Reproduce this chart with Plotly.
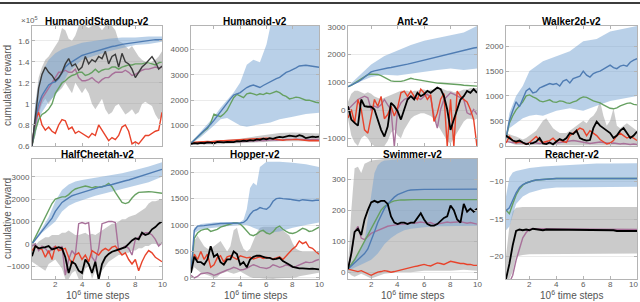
import plotly.graph_objects as go

# ---------------- shared x grid (10^6 time steps) ----------------
X = [0.25, 0.5, 0.75, 1, 1.25, 1.5, 1.75, 2, 2.25, 2.5, 2.75, 3, 3.25, 3.5, 3.75, 4,
     4.25, 4.5, 4.75, 5, 5.25, 5.5, 5.75, 6, 6.25, 6.5, 6.75, 7, 7.25, 7.5, 7.75, 8,
     8.25, 8.5, 8.75, 9, 9.25, 9.5, 9.75, 10]
X_TICKS = [2, 4, 6, 8, 10]

# ---------------- HumanoidStandup-v2 (x1e5) ----------------
HS_BLUE = [0.6,0.85,1.0,1.08,1.13,1.18,1.2,1.21,1.24,1.3,1.35,1.38,1.4,1.42,1.44,1.46,1.47,1.48,1.49,1.5,
           1.51,1.52,1.53,1.54,1.545,1.55,1.56,1.565,1.57,1.575,1.58,1.585,1.59,1.595,1.6,1.6,1.605,1.61,1.61,1.61]
HS_BAND_X = [0.25,0.5,0.75,1,1.5,2,2.5,3,3.5,4,5,6,7,8,9,10]
HS_BLUE_HI = [0.62,1.0,1.2,1.3,1.42,1.48,1.52,1.54,1.56,1.58,1.6,1.62,1.63,1.63,1.64,1.64]
HS_BLUE_LO = [0.6,0.7,0.85,0.92,1.02,1.08,1.18,1.3,1.36,1.42,1.46,1.5,1.53,1.56,1.57,1.59]
HS_GRAY_HI = [0.62,1.0,1.25,1.35,1.42,1.45,1.5,1.55,1.6,1.72,1.7,1.62,1.6,1.65,1.74,1.74,1.74,1.72,1.74,1.74,
              1.74,1.7,1.74,1.74,1.74,1.7,1.6,1.58,1.55,1.52,1.55,1.5,1.45,1.42,1.4,1.38,1.4,1.42,1.45,1.5]
HS_GRAY_LO = [0.6,0.7,0.9,1.0,1.05,1.0,1.05,1.1,1.12,1.15,1.2,1.15,1.1,1.2,1.15,1.1,1.15,1.1,1.0,0.95,
              1.0,1.05,0.95,0.9,0.92,0.98,1.0,0.95,0.9,0.92,0.95,0.9,0.92,1.0,1.02,1.0,0.98,0.9,0.85,0.88]
HS_BLACK = [0.6,0.9,1.15,1.28,1.35,1.3,1.27,1.22,1.25,1.3,1.38,1.43,1.36,1.38,1.32,1.35,1.45,1.38,1.42,1.4,
            1.45,1.43,1.5,1.38,1.45,1.47,1.35,1.48,1.4,1.38,1.33,1.25,1.3,1.35,1.38,1.42,1.45,1.4,1.33,1.36]
HS_GREEN = [0.6,0.75,0.85,0.9,0.92,0.95,1.0,1.1,1.15,1.2,1.22,1.25,1.27,1.28,1.3,1.3,1.27,1.28,1.3,1.33,
            1.3,1.32,1.33,1.33,1.35,1.35,1.33,1.35,1.36,1.37,1.37,1.38,1.38,1.38,1.39,1.39,1.38,1.37,1.39,1.4]
HS_PURPLE = [0.6,0.8,0.95,1.05,1.1,1.15,1.2,1.25,1.3,1.3,1.32,1.3,1.3,1.33,1.25,1.22,1.22,1.23,1.25,1.22,
             1.2,1.23,1.25,1.25,1.28,1.3,1.3,1.3,1.32,1.3,1.27,1.28,1.3,1.32,1.33,1.33,1.34,1.35,1.34,1.35]
HS_RED = [0.6,0.85,0.92,0.8,0.75,0.78,0.74,0.72,0.8,0.85,0.84,0.76,0.78,0.72,0.74,0.72,0.7,0.68,0.72,0.7,
          0.8,0.75,0.7,0.65,0.68,0.66,0.7,0.78,0.8,0.74,0.62,0.64,0.62,0.66,0.7,0.7,0.72,0.74,0.75,0.92]

# ---------------- Humanoid-v2 ----------------
HU_BLUE = [300,420,530,650,780,900,1050,1200,1380,1550,1720,1900,2050,2200,2250,2300,2400,2500,2560,2600,
           2550,2500,2580,2650,2720,2800,2850,2900,3000,3100,3150,3200,3280,3350,3370,3380,3360,3350,3320,3300]
HU_BAND_X = [0.25,1,2,2.5,3,3.5,4,4.5,5,5.5,6,6.3,7,8,9,10]
HU_BLUE_HI = [330,750,1350,1700,2000,2300,2700,3400,3600,3500,4200,4930,4930,4930,4930,4930]
HU_BLUE_LO = [280,550,1000,1250,1300,1150,1000,950,1000,1050,1100,1120,1250,1350,1450,1500]
HU_GREEN = [300,420,560,700,780,880,1100,1450,1400,1350,1450,1600,1850,2100,2230,2150,2100,2250,2280,2250,
            2200,2250,2220,2280,2250,2300,2350,2300,2200,2150,2050,2080,2120,2100,2050,2000,2000,1950,1920,1900]
HU_BLACK = [270,300,290,310,300,330,320,300,350,340,330,350,360,340,380,370,400,380,420,400,
            450,430,480,450,500,470,520,550,530,560,600,580,560,620,580,500,520,560,540,560]
HU_GRAY_X = [0.25,1,2,3,4,5,6,7,8,9,10]
HU_GRAY_HI = [320,380,400,430,480,560,620,700,720,700,680]
HU_GRAY_LO = [230,250,250,270,290,320,350,380,400,380,380]
HU_RED = [330,340,350,350,360,370,360,380,390,400,400,410,420,420,430,440,450,450,460,470,
          480,480,490,500,490,470,450,440,420,430,450,440,450,430,420,410,400,410,400,400]
HU_PURPLE = [290,300,310,320,330,320,340,330,350,340,350,360,350,370,360,380,370,390,380,400,
             390,410,400,420,410,430,420,440,430,450,440,450,460,450,440,430,440,450,440,450]

# ---------------- Ant-v2 ----------------
AN_BLUE = [850,900,960,1020,1100,1200,1300,1380,1420,1450,1480,1500,1520,1540,1560,1590,1610,1630,1660,1690,
           1720,1750,1780,1810,1840,1870,1900,1930,1960,1990,2010,2040,2070,2100,2130,2150,2180,2210,2240,2260]
AN_BAND_X = [0.25,1,2,3,4,5,6,7,8,9,10]
AN_BLUE_HI = [870,1200,1650,1950,2150,2350,2500,2600,2700,2800,3030]
AN_BLUE_LO = [830,1000,1200,1280,1250,1300,1380,1450,1500,1450,1500]
AN_GREEN = [850,900,980,1060,1150,1230,1280,1300,1300,1290,1250,1180,1110,1060,1040,1030,1040,1070,1100,1150,
            1120,1100,1080,1050,1030,1000,990,980,975,970,960,950,940,930,920,900,890,880,870,870]
AN_GRAY_HI = [300,600,700,700,650,600,650,600,500,450,400,450,500,550,600,650,700,700,700,650,
              700,700,750,750,700,750,750,800,800,750,700,700,650,650,700,750,750,800,800,800]
AN_GRAY_LO = [-300,-900,-1150,-1280,-1000,-900,-1000,-1200,-1280,-1280,-1280,-1280,-1100,-800,-700,-900,-1000,-700,-500,-300,
              -200,-150,-100,-100,-150,-200,-300,-500,-700,-900,-1100,-1200,-1000,-800,-600,-400,-300,-300,-350,-300]
AN_BLACK = [150,-330,-450,-550,390,150,130,130,30,-330,-700,-940,-580,270,150,-30,-330,30,390,510,
            390,630,510,580,700,630,730,820,760,510,30,-700,-330,30,390,510,700,630,760,630]
AN_RED = [-270,30,-450,390,30,-700,-820,-200,390,150,500,-300,-150,150,-200,100,630,690,500,690,
          500,390,760,630,390,560,-400,-100,400,600,-1300,400,-1300,690,510,390,300,30,-330,-1300]
AN_PURPLE = [30,150,270,390,450,510,450,30,150,100,200,390,200,30,-1300,30,270,390,450,510,
             450,450,390,510,580,450,-200,-640,30,390,510,630,580,510,450,390,-90,-150,30,-150]

# ---------------- Walker2d-v2 ----------------
WA_BLUE = [150,500,700,880,780,950,1100,1150,1060,1080,1160,1190,1220,1250,1230,1250,1200,1300,1330,1260,
           1350,1370,1400,1500,1420,1380,1450,1480,1500,1540,1580,1620,1570,1550,1600,1620,1600,1680,1720,1750]
WA_BAND_X = [0.25,0.5,1,1.5,2,2.5,3,4,5,6,7,8,9,10]
WA_BLUE_HI = [200,650,1000,1200,1500,1600,1700,1800,1900,2100,2150,2300,2350,2410]
WA_BLUE_LO = [120,350,450,550,600,620,600,700,750,700,800,900,950,1000]
WA_GREEN = [150,450,600,720,800,880,1000,1020,980,950,900,880,900,920,880,870,900,890,860,850,
            880,900,950,980,970,930,900,880,860,820,780,750,740,760,800,830,850,860,830,820]
WA_GRAY_HI = [250,220,200,180,150,120,150,200,250,300,400,500,550,450,350,300,250,250,250,300,
              350,400,450,500,450,550,600,700,900,600,400,500,750,400,350,400,450,400,350,300]
WA_GRAY_LO = [120,60,30,10,0,0,0,0,0,0,0,0,0,0,0,0,0,0,0,0,
              0,0,0,0,0,0,0,0,0,0,0,0,0,0,0,0,0,0,0,0]
WA_BLACK = [200,150,100,80,100,60,30,40,50,80,150,40,30,60,20,80,130,100,150,250,
            230,300,150,120,100,110,350,480,400,350,300,250,150,200,300,350,250,150,200,280]
WA_RED = [50,180,100,50,80,60,20,60,120,180,100,60,80,100,150,80,120,80,60,200,
          250,300,350,320,200,300,250,200,120,80,30,50,100,200,250,200,150,180,150,100]
WA_PURPLE = [80,70,60,50,60,50,40,50,60,50,40,50,60,50,40,50,60,70,80,90,
             100,90,80,60,50,40,50,60,70,60,50,40,50,40,30,40,30,20,30,20]

# ---------------- HalfCheetah-v2 ----------------
HC_BLUE = [0,200,400,600,750,950,1150,1450,1650,1850,1950,2050,2150,2200,2250,2300,2350,2400,2450,2500,
           2520,2550,2600,2620,2650,2700,2750,2780,2820,2850,2900,2950,3000,3050,3100,3150,3200,3250,3300,3330]
HC_BAND_X = [0.25,1,1.5,2,2.5,3,3.5,4,5,6,7,8,9,10]
HC_BLUE_HI = [50,700,1200,1900,2400,2650,2780,2850,2950,3050,3150,3300,3450,3650]
HC_BLUE_LO = [-50,500,750,1000,1450,1700,1850,1950,2150,2300,2450,2600,2750,3000]
HC_GREEN = [0,300,600,900,1200,1500,1800,2000,2050,2100,2100,2200,2350,2450,2500,2550,2580,2550,2500,2550,
            2530,2550,2600,2700,2550,2300,2100,1850,1800,1850,2050,2200,2300,2320,2330,2330,2320,2300,2280,2260]
HC_GRAY_HI = [0,-100,100,200,300,300,400,400,400,500,500,600,500,400,400,450,500,400,450,400,
              500,600,700,800,900,900,1000,1100,1100,1200,1250,1300,1400,1500,1600,1800,1900,1900,1950,2000]
HC_GRAY_LO = [-800,-900,-1000,-1100,-1200,-900,-800,-700,-900,-1100,-1570,-1570,-1300,-1200,-1570,-1570,-1100,-1000,-1570,-1200,
              -1570,-1200,-1000,-800,-700,-600,-500,-500,-400,-400,-300,-300,-200,-200,-100,-100,0,0,-100,0]
HC_BLACK = [-550,-100,-200,-180,-150,-100,-250,-200,-150,-200,-600,-1300,-800,-900,-1200,-1300,-700,-900,-1300,-800,
            -1600,-900,-600,-450,-350,-300,-250,-200,-150,0,150,250,200,500,400,450,650,750,900,1000]
HC_PURPLE = [-100,0,-300,-100,-200,-400,-200,-100,-300,-100,-1400,-700,-300,-500,900,950,900,950,-600,-800,
             -200,900,950,1000,1000,950,-300,-200,-100,-200,-500,200,300,400,500,500,400,200,-100,50]
HC_RED = [-300,-100,-200,-250,-600,-300,-700,-100,-300,-250,-200,-600,-900,-500,-400,-700,-500,-800,-300,-400,
          -500,-300,-200,-300,-150,-100,-300,-500,-400,-700,-900,-700,-1200,-800,-500,-300,-400,-600,-700,-800]

# ---------------- Hopper-v2 ----------------
HO_BLUE = [100,900,980,980,990,1000,1010,1020,1020,1030,1030,1030,1040,1040,1040,1040,1050,1100,1200,1270,
           1290,1330,1310,1300,1350,1450,1500,1510,1500,1500,1490,1480,1470,1460,1480,1470,1470,1460,1470,1470]
HO_BAND_X = [0.25,0.5,1,2,3,4,4.25,4.5,4.75,5,5.25,5.5,6,7,8,9,10]
HO_BLUE_HI = [120,950,1020,1050,1060,1060,1100,1300,1700,1800,1750,2100,2200,2200,2180,2150,2100]
HO_BLUE_LO = [80,850,920,950,980,1000,1000,1000,980,950,920,900,850,880,950,1000,1050]
HO_GREEN = [100,750,850,900,920,930,880,900,920,960,980,990,1020,1040,1040,1020,960,880,820,800,
            830,880,900,850,830,870,950,980,920,880,850,840,860,900,940,920,880,890,930,960]
HO_GRAY_HI = [120,700,800,700,600,550,550,600,650,700,600,500,600,900,950,700,550,500,550,700,
              850,950,970,970,970,970,970,950,900,850,800,650,550,520,500,500,500,500,500,500]
HO_GRAY_LO = [80,200,150,100,80,50,30,0,20,80,100,120,100,80,100,120,80,50,20,0,
              0,0,-10,-20,-20,-20,-10,0,0,0,0,0,10,30,50,50,60,80,90,100]
HO_BLACK = [100,400,300,300,250,350,600,400,450,300,250,350,350,500,450,250,300,200,350,400,
            420,420,400,380,380,350,360,380,320,290,250,210,190,180,180,170,170,175,170,160]
HO_RED = [150,450,350,500,350,450,200,250,380,420,300,400,420,380,350,420,400,380,390,360,
          380,400,370,390,380,360,380,400,350,420,500,550,600,700,650,680,580,560,500,450]
HO_PURPLE = [50,0,30,80,90,100,80,50,70,100,120,150,170,200,180,150,160,180,220,250,
             230,200,190,180,200,250,230,200,220,250,230,200,220,250,280,300,290,300,330,350]

# ---------------- Swimmer-v2 ----------------
SW_BLUE = [10,20,30,40,50,60,75,100,130,160,185,205,220,232,242,250,255,260,263,265,
           266,266,267,267,267,267,268,268,268,268,268,268,268,268,268,268,268,268,268,268]
SW_BAND_X = [0.25,0.5,1,1.5,2,2.25,2.5,2.75,3,3.5,4,4.5,5,6,7,8,9,10]
SW_BLUE_HI = [15,30,60,100,250,320,345,355,360,362,363,365,365,365,365,365,365,365]
SW_BLUE_LO = [5,10,20,30,40,50,60,75,90,110,125,135,140,145,148,150,150,150]
SW_GREEN = [10,25,40,60,80,100,120,140,165,185,200,212,220,226,230,232,233,233,234,234,
            234,234,234,234,234,234,234,234,234,234,234,234,234,234,234,234,234,234,234,234]
SW_GRAY_X = [0.25,0.5,0.75,1,1.25,1.5,2,3,4,5,6,7,8,9,10]
SW_GRAY_HI = [15,200,335,340,320,350,360,365,365,365,365,365,365,365,365]
SW_GRAY_LO = [0,-10,-15,-10,-5,-10,-20,-5,0,0,5,5,5,8,5]
SW_BLACK = [10,60,130,140,120,170,200,225,230,225,230,230,220,180,160,155,160,160,155,160,
            160,175,190,170,155,150,150,155,165,175,180,215,200,170,160,220,195,205,195,205]
SW_PURPLE = [10,60,130,148,110,105,115,125,130,135,140,145,148,150,152,155,155,155,158,160,
             158,160,162,160,158,160,155,155,158,160,162,160,160,162,163,160,158,160,158,155]
SW_RED = [10,8,5,2,5,0,-5,-10,-5,0,2,5,3,0,2,5,8,10,12,15,
          18,20,22,25,22,20,25,30,28,25,30,35,33,30,28,28,25,25,22,22]

# ---------------- Reacher-v2 ----------------
RE_BLUE = [-13.9,-13.5,-12.5,-11.5,-10.8,-10.4,-10.2,-10.0,-9.9,-9.8,-9.75,-9.7,-9.65,-9.62,-9.6,-9.6,-9.58,-9.6,-9.58,-9.6,
           -9.6,-9.58,-9.6,-9.6,-9.58,-9.6,-9.6,-9.6,-9.58,-9.6,-9.6,-9.6,-9.62,-9.6,-9.6,-9.6,-9.6,-9.62,-9.6,-9.6]
RE_BAND_X = [0.25,0.5,0.75,1,1.5,2,3,4,5,6,7,8,9,10]
RE_BLUE_HI = [-12,-9.5,-8.8,-8.6,-8.4,-8.2,-8.0,-7.9,-7.8,-7.7,-7.6,-7.6,-7.55,-7.55]
RE_BLUE_LO = [-16.5,-16.0,-14.5,-13.0,-12.0,-11.5,-11.0,-10.8,-10.8,-10.7,-10.7,-10.7,-10.7,-10.7]
RE_GREEN = [-13.8,-14.3,-13.0,-11.8,-11.0,-10.5,-10.2,-10.0,-9.9,-9.8,-9.75,-9.7,-9.68,-9.65,-9.62,-9.6,-9.6,-9.6,-9.6,-9.6,
            -9.6,-9.6,-9.6,-9.6,-9.6,-9.6,-9.6,-9.6,-9.6,-9.6,-9.6,-9.6,-9.6,-9.6,-9.6,-9.6,-9.6,-9.6,-9.6,-9.6]
RE_GRAY_X = [0.25,0.5,0.75,1,1.5,2,3,4,5,6,7,8,9,10]
RE_GRAY_HI = [-20,-16,-14,-13.5,-13.4,-13.4,-13.3,-13.4,-13.3,-13.4,-13.3,-13.4,-13.3,-13.4]
RE_GRAY_LO = [-23,-23,-22,-20,-19.8,-19.7,-19.6,-19.7,-19.6,-19.7,-19.6,-19.7,-19.6,-19.6]
RE_BLACK = [-23,-21,-18.5,-16.6,-16.4,-16.5,-16.4,-16.5,-16.3,-16.4,-16.4,-16.5,-16.4,-16.4,-16.5,-16.4,-16.4,-16.5,-16.4,-16.4,
            -16.5,-16.5,-16.4,-16.5,-16.5,-16.5,-16.5,-16.5,-16.5,-16.5,-16.5,-16.5,-16.5,-16.6,-16.6,-16.6,-16.6,-16.6,-16.6,-16.6]
RE_PURPLE = [-24,-23.5,-22.5,-20.5,-19,-17.5,-16.8,-16.4,-16.3,-16.3,-16.3,-16.3,-16.3,-16.3,-16.3,-16.3,-16.3,-16.3,-16.3,-16.3,
             -16.3,-16.3,-16.3,-16.3,-16.3,-16.3,-16.3,-16.3,-16.3,-16.3,-16.3,-16.3,-16.3,-16.3,-16.3,-16.3,-16.3,-16.3,-16.35,-16.4]

# ---------------- styling ----------------
C_BLUE = "#4f7cb3"
C_BLUE_BAND = "rgba(115,161,209,0.5)"
C_GRAY_BAND = "rgba(140,140,140,0.45)"
C_GREEN = "#66a061"
C_PURPLE = "#a8719a"
C_RED = "#e8432b"
C_BLACK = "#000000"
FONT = "Liberation Sans, Arial, sans-serif"
TICK_COLOR = "#5c5c5c"
W, H = 640, 302

COL_PX = [(32, 162), (191, 319), (348, 477), (506, 637)]
ROW_PX = [(26, 146), (159, 279)]

PANELS = [
    dict(title="HumanoidStandup-v2", yr=[0.6, 1.74], yt=[0.6, 0.8, 1, 1.2, 1.4, 1.6],
         ytl=["0.6", "0.8", "1", "1.2", "1.4", "1.6"],
         bands=[(X, HS_GRAY_LO, HS_GRAY_HI, C_GRAY_BAND), (HS_BAND_X, HS_BLUE_LO, HS_BLUE_HI, C_BLUE_BAND)],
         lines=[(X, HS_PURPLE, C_PURPLE, 1.4), (X, HS_RED, C_RED, 1.4), (X, HS_GREEN, C_GREEN, 1.4),
                (X, HS_BLUE, C_BLUE, 1.4), (X, HS_BLACK, "#3a3a3a", 1.4)]),
    dict(title="Humanoid-v2", yr=[190, 4930], yt=[1000, 2000, 3000, 4000], ytl=None,
         bands=[(HU_GRAY_X, HU_GRAY_LO, HU_GRAY_HI, C_GRAY_BAND), (HU_BAND_X, HU_BLUE_LO, HU_BLUE_HI, C_BLUE_BAND)],
         lines=[(X, HU_PURPLE, C_PURPLE, 1.4), (X, HU_RED, C_RED, 1.4), (X, HU_GREEN, C_GREEN, 1.4),
                (X, HU_BLUE, C_BLUE, 1.4), (X, HU_BLACK, C_BLACK, 1.8)]),
    dict(title="Ant-v2", yr=[-1280, 3030], yt=[-1000, 0, 1000, 2000, 3000], ytl=None,
         bands=[(X, AN_GRAY_LO, AN_GRAY_HI, C_GRAY_BAND), (AN_BAND_X, AN_BLUE_LO, AN_BLUE_HI, C_BLUE_BAND)],
         lines=[(X, AN_PURPLE, C_PURPLE, 1.4), (X, AN_RED, C_RED, 1.4), (X, AN_GREEN, C_GREEN, 1.4),
                (X, AN_BLUE, C_BLUE, 1.4), (X, AN_BLACK, C_BLACK, 1.8)]),
    dict(title="Walker2d-v2", yr=[-10, 2410], yt=[0, 500, 1000, 1500, 2000], ytl=None,
         bands=[(X, WA_GRAY_LO, WA_GRAY_HI, C_GRAY_BAND), (WA_BAND_X, WA_BLUE_LO, WA_BLUE_HI, C_BLUE_BAND)],
         lines=[(X, WA_PURPLE, C_PURPLE, 1.4), (X, WA_RED, C_RED, 1.4), (X, WA_GREEN, C_GREEN, 1.4),
                (X, WA_BLUE, C_BLUE, 1.4), (X, WA_BLACK, C_BLACK, 1.8)]),
    dict(title="HalfCheetah-v2", yr=[-1570, 3790], yt=[-1000, 0, 1000, 2000, 3000], ytl=None,
         bands=[(X, HC_GRAY_LO, HC_GRAY_HI, C_GRAY_BAND), (HC_BAND_X, HC_BLUE_LO, HC_BLUE_HI, C_BLUE_BAND)],
         lines=[(X, HC_PURPLE, C_PURPLE, 1.4), (X, HC_RED, C_RED, 1.4), (X, HC_GREEN, C_GREEN, 1.4),
                (X, HC_BLUE, C_BLUE, 1.4), (X, HC_BLACK, C_BLACK, 1.8)]),
    dict(title="Hopper-v2", yr=[-20, 2250], yt=[0, 500, 1000, 1500, 2000], ytl=None,
         bands=[(X, HO_GRAY_LO, HO_GRAY_HI, C_GRAY_BAND), (HO_BAND_X, HO_BLUE_LO, HO_BLUE_HI, C_BLUE_BAND)],
         lines=[(X, HO_PURPLE, C_PURPLE, 1.4), (X, HO_RED, C_RED, 1.4), (X, HO_GREEN, C_GREEN, 1.4),
                (X, HO_BLUE, C_BLUE, 1.4), (X, HO_BLACK, C_BLACK, 1.8)]),
    dict(title="Swimmer-v2", yr=[-22, 365], yt=[0, 100, 200, 300], ytl=None,
         bands=[(SW_GRAY_X, SW_GRAY_LO, SW_GRAY_HI, C_GRAY_BAND), (SW_BAND_X, SW_BLUE_LO, SW_BLUE_HI, C_BLUE_BAND)],
         lines=[(X, SW_PURPLE, C_PURPLE, 1.4), (X, SW_RED, C_RED, 1.4), (X, SW_GREEN, C_GREEN, 1.4),
                (X, SW_BLUE, C_BLUE, 1.4), (X, SW_BLACK, C_BLACK, 1.8)]),
    dict(title="Reacher-v2", yr=[-23, -7], yt=[-20, -15, -10], ytl=None,
         bands=[(RE_GRAY_X, RE_GRAY_LO, RE_GRAY_HI, C_GRAY_BAND), (RE_BAND_X, RE_BLUE_LO, RE_BLUE_HI, C_BLUE_BAND)],
         lines=[(X, RE_PURPLE, C_PURPLE, 1.4), (X, RE_GREEN, C_GREEN, 1.4),
                (X, RE_BLUE, C_BLUE, 1.4), (X, RE_BLACK, C_BLACK, 1.8)]),
]

fig = go.Figure()
annotations = []
layout = {}

for k, p in enumerate(PANELS):
    r, c = divmod(k, 4)
    n = "" if k == 0 else str(k + 1)
    xa, ya = "x" + n, "y" + n
    for bx, lo, hi, col in p["bands"]:
        fig.add_trace(go.Scatter(x=list(bx) + list(bx)[::-1], y=list(hi) + list(lo)[::-1],
                                 xaxis=xa, yaxis=ya, mode="lines", fill="toself",
                                 fillcolor=col, line=dict(width=0), hoverinfo="skip",
                                 showlegend=False))
    for lx, ly, col, w in p["lines"]:
        fig.add_trace(go.Scatter(x=lx, y=ly, xaxis=xa, yaxis=ya, mode="lines",
                                 line=dict(color=col, width=w), showlegend=False))
    x0, x1 = COL_PX[c]
    y0, y1 = ROW_PX[r]
    axis_common = dict(showline=True, linecolor="#b4b4b4", linewidth=1, mirror="ticks",
                       ticks="inside", ticklen=3, tickcolor="#b4b4b4", zeroline=False,
                       automargin=False,
                       tickfont=dict(family=FONT, size=8, color=TICK_COLOR))
    layout["xaxis" + n] = dict(axis_common, domain=[x0 / W, x1 / W], range=[0.25, 10],
                               anchor=ya, tickvals=X_TICKS, showgrid=False,
                               showticklabels=False)
    yax = dict(axis_common, domain=[1 - y1 / H, 1 - y0 / H], range=p["yr"], anchor=xa,
               tickvals=p["yt"], showgrid=True, gridcolor="#ebebeb", gridwidth=1)
    if p["ytl"]:
        yax["ticktext"] = p["ytl"]
    layout["yaxis" + n] = yax
    annotations.append(dict(text="<b>" + p["title"] + "</b>", x=(x0 + x1) / 2 / W,
                            y=1 - (y0 - 5) / H, xref="paper", yref="paper", showarrow=False,
                            font=dict(family=FONT, size=10, color="#000000"),
                            xanchor="center", yanchor="middle"))
    if r == 1:
        # x tick labels placed on the data axis, right under the frame
        for t in X_TICKS:
            last = (c == 3 and t == X_TICKS[-1])
            annotations.append(dict(text=str(t), x=t, xref=xa, y=1 - 284 / H, yref="paper",
                                    showarrow=False, xanchor="right" if last else "center",
                                    xshift=3 if last else 0, yanchor="middle",
                                    font=dict(family=FONT, size=8, color=TICK_COLOR)))
        annotations.append(dict(text="10<sup>6</sup> time steps", x=(x0 + x1) / 2 / W,
                                y=1 - 302 / H, xref="paper", yref="paper", showarrow=False,
                                font=dict(family=FONT, size=10, color="#555555"),
                                xanchor="center", yanchor="bottom", borderpad=0))
    if c == 0:
        annotations.append(dict(text="cumulative reward", x=7 / W, y=1 - ((y0 + y1) / 2) / H,
                                xref="paper", yref="paper", showarrow=False, textangle=-90,
                                font=dict(family=FONT, size=10, color="#555555"),
                                xanchor="center", yanchor="middle"))

annotations.append(dict(text="×10<sup>5</sup>", x=29 / W, y=1 - 20 / H, xref="paper", yref="paper",
                        showarrow=False, font=dict(family=FONT, size=8, color=TICK_COLOR),
                        xanchor="center", yanchor="middle"))

fig.update_layout(
    width=W, height=H, margin=dict(l=0, r=0, t=0, b=0, autoexpand=False),
    paper_bgcolor="white", plot_bgcolor="white",
    annotations=annotations,
    shapes=[dict(type="line", xref="paper", yref="paper", x0=0, x1=1,
                 y0=1 - 3 / H, y1=1 - 3 / H, line=dict(color="#3c3c3c", width=2))],
    **layout,
)

fig.write_html("out.html", config={"displayModeBar": False},
               post_script="document.body.style.margin='0';document.body.style.overflow='hidden';")
